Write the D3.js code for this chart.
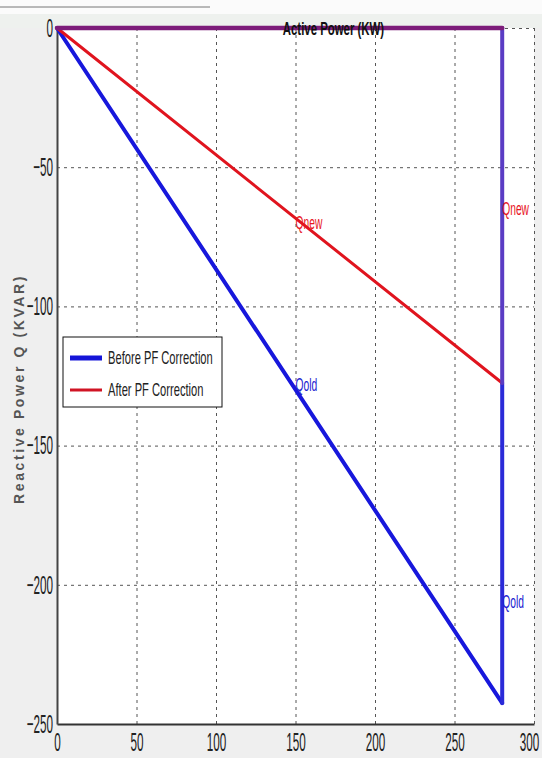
<!DOCTYPE html>
<html>
<head>
<meta charset="utf-8">
<script src="https://cdn.jsdelivr.net/npm/d3@7"></script>
<style>
  html, body { margin: 0; padding: 0; background: #efefef; }
  svg { display: block; }
</style>
</head>
<body>
<svg id="chart" width="542" height="758"></svg>
<script>
// ---- data ----
const activePower = 280;          // P (kW)
const qOld = -242.5;              // reactive power before correction (kVAR)
const qNew = -127.5;              // reactive power after correction (kVAR)
const xTicks = [0, 50, 100, 150, 200, 250, 300];
const yTicks = [0, -50, -100, -150, -200, -250];
const legendLabels = ["Before PF Correction", "After PF Correction"];
const beforeDiag = [[0, 0], [activePower, qOld]];
const beforeSide = [[activePower, qNew], [activePower, qOld]];
const afterDiag = [[0, 0], [activePower, qNew]];
const sharedTop = [[0, 0], [activePower, 0]];
const sharedSide = [[activePower, 0], [activePower, qNew]];
const textLabels = [
  { x: 142, y: 0, t: "Active Power (KW)", c: "#111" },
  { x: 150, y: -70, t: "Qnew", c: "#e8141e" },
  { x: 150, y: -128, t: "Qold", c: "#2020d0" },
  { x: 280, y: -65, t: "Qnew", c: "#e8141e" },
  { x: 280, y: -206, t: "Qold", c: "#2020d0" }
];

const svg = d3.select("#chart");
const W = 542, H = 758;
const x = d3.scaleLinear().domain([0, 300]).range([57, 534]);
const y = d3.scaleLinear().domain([-250, 0]).range([724, 28]);
const FONT = "'Liberation Sans', Arial, sans-serif";

// backgrounds
svg.append("rect").attr("width", W).attr("height", H).attr("fill", "#efefef");
svg.append("rect").attr("x", 0).attr("y", 0).attr("width", W).attr("height", 14).attr("fill", "#fbfbfb");
svg.append("line").attr("x1", 0).attr("x2", 210).attr("y1", 7).attr("y2", 7)
  .attr("stroke", "#777").attr("stroke-width", 1);
svg.append("rect").attr("x", 0).attr("y", 14).attr("width", W).attr("height", 14).attr("fill", "#eef1ee");
svg.append("rect").attr("x", x(0)).attr("y", y(0))
  .attr("width", x(300) - x(0)).attr("height", y(-250) - y(0)).attr("fill", "#ffffff");

// grid
const gridX = svg.append("g").attr("transform", `translate(0,${y(-250)})`)
  .call(d3.axisBottom(x).tickValues(xTicks.slice(1)).tickSize(-(y(-250) - y(0))).tickFormat(""));
gridX.select(".domain").remove();
gridX.selectAll("line").attr("stroke", "#555").attr("stroke-dasharray", "3,4").attr("stroke-width", 1);
const gridY = svg.append("g").attr("transform", `translate(${x(0)},0)`)
  .call(d3.axisLeft(y).tickValues(yTicks.slice(0, -1)).tickSize(-(x(300) - x(0))).tickFormat(""));
gridY.select(".domain").remove();
gridY.selectAll("line").attr("stroke", "#555").attr("stroke-dasharray", "3,4").attr("stroke-width", 1);

// axes
const SX = 0.45;
const ax = svg.append("g").attr("transform", `translate(0,${y(-250)})`)
  .call(d3.axisBottom(x).tickValues(xTicks).tickSize(0).tickPadding(9).tickFormat(d3.format("d")));
ax.select(".domain").attr("stroke", "#333").attr("stroke-width", 2);
ax.selectAll("text").attr("font-family", FONT).attr("font-size", 26).attr("fill", "#222")
  .attr("transform", `scale(${SX},1)`)
  .attr("x", d => d === 300 ? -5 / SX : 0);
const ay = svg.append("g").attr("transform", `translate(${x(0)},0)`)
  .call(d3.axisLeft(y).tickValues(yTicks).tickSize(0).tickPadding(4).tickFormat(d3.format("d")));
ay.select(".domain").attr("stroke", "#444").attr("stroke-width", 2);
ay.selectAll("text").attr("font-family", FONT).attr("font-size", 26).attr("fill", "#222")
  .attr("x", -4 / SX).attr("transform", `scale(${SX},1)`);

// lines
const line = d3.line().x(d => x(d[0])).y(d => y(d[1]));
function drawLine(data, color, width) {
  svg.append("path").datum(data).attr("d", line).attr("fill", "none")
    .attr("stroke", color).attr("stroke-width", width).attr("stroke-linecap", "round");
}
drawLine(beforeDiag, "#1717dc", 4);
drawLine(beforeSide, "#2a2ad8", 4);
drawLine(afterDiag, "#e0141e", 3);
drawLine(sharedSide, "#5a3cc4", 4);
drawLine(sharedTop, "#7d1c7a", 4.5);

// text labels
textLabels.forEach((l, i) => {
  const fs = i === 0 ? 19 : 18;
  const sx = i === 0 ? 0.6 : 0.57;
  svg.append("text")
    .attr("transform", `translate(${x(l.x)},${y(l.y)}) scale(${sx},1)`)
    .attr("dy", "0.35em")
    .attr("font-family", FONT).attr("font-size", fs)
    .attr("font-weight", i === 0 ? "bold" : "normal")
    .attr("fill", l.c).text(l.t);
});

// y-axis title
svg.append("text")
  .attr("transform", `translate(24,389) rotate(-90)`)
  .attr("text-anchor", "middle")
  .attr("font-family", FONT).attr("font-size", 14).attr("font-weight", "bold")
  .attr("letter-spacing", 2.6)
  .attr("fill", "#555").text("Reactive Power Q (KVAR)");

// legend
const lg = svg.append("g");
lg.append("rect").attr("x", 63).attr("y", 337).attr("width", 159).attr("height", 70)
  .attr("fill", "#fff").attr("stroke", "#111").attr("stroke-width", 1);
const legendColors = ["#1414d8", "#d01424"];
const legendWidths = [5, 3];
legendLabels.forEach((lab, i) => {
  const ly = 358 + i * 32;
  lg.append("line").attr("x1", 70).attr("x2", 102).attr("y1", ly).attr("y2", ly)
    .attr("stroke", legendColors[i]).attr("stroke-width", legendWidths[i]);
  lg.append("text").attr("transform", `translate(108,${ly}) scale(0.62,1)`)
    .attr("dy", "0.35em").attr("font-family", FONT).attr("font-size", 18)
    .attr("fill", "#222").text(lab);
});
</script>
</body>
</html>
